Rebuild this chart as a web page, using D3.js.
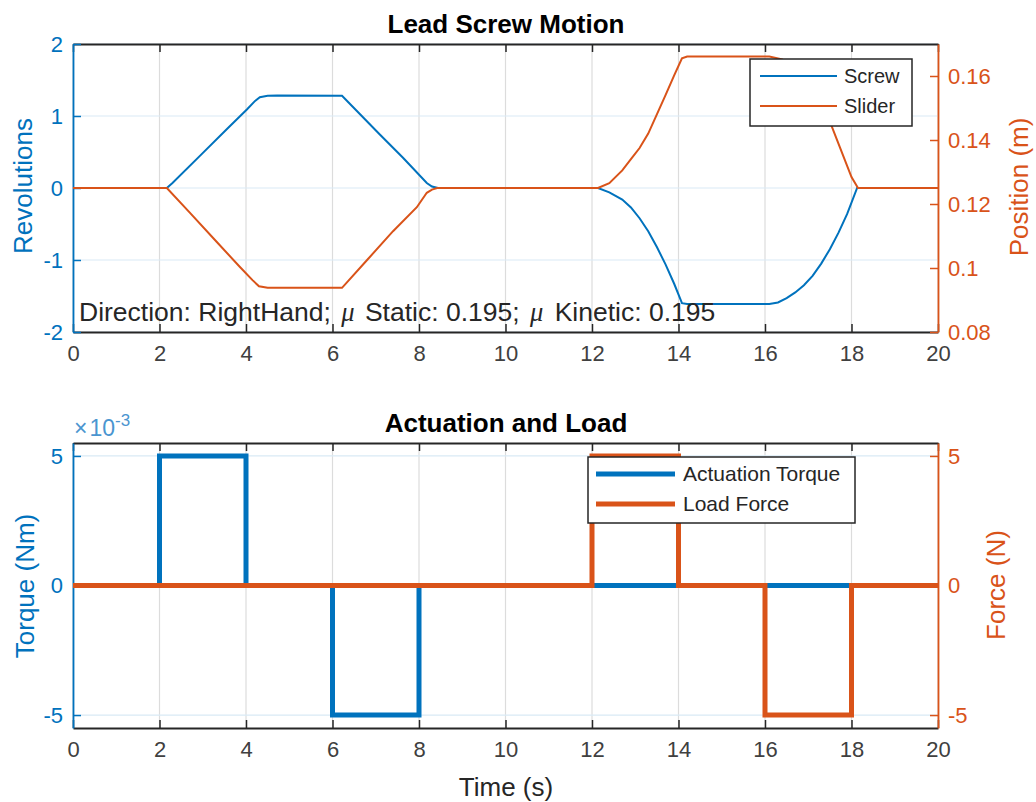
<!DOCTYPE html>
<html>
<head>
<meta charset="utf-8">
<script src="https://cdn.jsdelivr.net/npm/d3@7"></script>
<style>
  body { margin: 0; background: #fff; }
  svg { font-family: "Liberation Sans", Arial, Helvetica, sans-serif; }
</style>
</head>
<body>
<div id="chart"></div>
<script>
/* CONSTANTS AND GLOBALS */
const width = 1036;
const height = 802;
const blue = "#0072BD";
const orange = "#D95319";
const ink = "#262626";
const gridGray = "#dcdcdc";
const gridBlue = "#d9eaf5";

/* DATA */
// top panel: lead screw rotation (rev) and slider position (m) over time (s)
const screwTime = [0, 2.17, 2.3, 2.94, 3.56, 4.02, 4.21, 4.32, 4.5, 4.72, 6.22, 6.4, 7.1, 7.63, 8.18, 8.3, 8.44,
  12.14, 12.4, 12.7, 12.9, 13.1, 13.3, 13.5, 13.7, 13.9, 14.08, 14.2, 16.1, 16.3, 16.5, 16.7, 16.9, 17.1, 17.3, 17.5, 17.7, 17.9, 18.13, 20];
const screwRev = [0, 0, 0.07, 0.45, 0.82, 1.09, 1.21, 1.26, 1.28, 1.285, 1.28, 1.17, 0.74, 0.42, 0.07, 0.02, 0,
  0, -0.06, -0.16, -0.27, -0.42, -0.6, -0.82, -1.06, -1.33, -1.6, -1.61, -1.61, -1.59, -1.53, -1.45, -1.35, -1.22, -1.05, -0.85, -0.62, -0.36, 0, 0];

const sliderTime = [0, 2.17, 2.7, 3.32, 3.86, 4.15, 4.3, 4.5, 6.22, 6.8, 7.4, 7.95, 8.18, 8.3, 8.42,
  12.14, 12.4, 12.7, 12.9, 13.1, 13.3, 13.5, 13.7, 13.9, 14.08, 14.2, 16.1, 16.4, 16.7, 17.0, 17.3, 17.55, 17.73, 18.0, 18.15, 20];
const sliderPos = [0.125, 0.125, 0.1173, 0.1082, 0.1003, 0.0962, 0.0943, 0.0938, 0.0938, 0.1025, 0.1115, 0.119, 0.1235, 0.1245, 0.125,
  0.125, 0.1265, 0.1305, 0.134, 0.1375, 0.142, 0.148, 0.154, 0.1602, 0.1655, 0.1661, 0.1661, 0.1652, 0.1625, 0.158, 0.1515, 0.144, 0.1378, 0.1284, 0.125, 0.125];

// bottom panel: piecewise constant actuation torque (Nm) and load force (N)
const stepTime = [0, 2, 2, 4, 4, 6, 6, 8, 8, 12, 12, 14, 14, 16, 16, 18, 18, 20];
const torque = [0, 0, 0.005, 0.005, 0, 0, -0.005, -0.005, 0, 0, 0, 0, 0, 0, 0, 0, 0, 0];
const force = [0, 0, 0, 0, 0, 0, 0, 0, 0, 0, 5, 5, 0, 0, -5, -5, 0, 0];

// ticks and labels
const timeTicks = [0, 2, 4, 6, 8, 10, 12, 14, 16, 18, 20];
const revTicks = [-2, -1, 0, 1, 2];
const revTickLabels = ["-2", "-1", "0", "1", "2"];
const posTicks = [0.08, 0.1, 0.12, 0.14, 0.16];
const posTickLabels = ["0.08", "0.1", "0.12", "0.14", "0.16"];
const torqueTicks = [-0.005, 0, 0.005];
const torqueTickLabels = ["-5", "0", "5"];
const forceTicks = [-5, 0, 5];
const forceTickLabels = ["-5", "0", "5"];

/* LAYOUT */
const left = 73, right = 938;
const top1 = 44, bottom1 = 332;
const top2 = 443, bottom2 = 728;

/* SCALES */
const xScale = d3.scaleLinear().domain([0, 20]).range([left, right]);
const revScale = d3.scaleLinear().domain([-2, 2]).range([bottom1, top1]);
const posScale = d3.scaleLinear().domain([0.08, 0.17]).range([bottom1, top1]);
const torqueScale = d3.scaleLinear().domain([-0.0055, 0.0055]).range([bottom2, top2]);
const forceScale = d3.scaleLinear().domain([-5.5, 5.5]).range([bottom2, top2]);

/* HTML ELEMENTS */
const svg = d3.select("#chart")
  .append("svg")
  .attr("width", width)
  .attr("height", height)
  .style("background-color", "white");

function panel(yL, yR, ticksL, labelsL, ticksR, labelsR, y0, y1) {
  const g = svg.append("g");

  // grid
  g.selectAll(".vgrid").data(timeTicks).join("line")
    .attr("x1", d => xScale(d)).attr("x2", d => xScale(d))
    .attr("y1", y0).attr("y2", y1)
    .attr("stroke", gridGray).attr("stroke-width", 1.2);
  g.selectAll(".hgrid").data(ticksL).join("line")
    .attr("x1", left).attr("x2", right)
    .attr("y1", d => yL(d)).attr("y2", d => yL(d))
    .attr("stroke", gridBlue).attr("stroke-width", 1.2);

  // x axes (bottom with labels, top ticks only)
  const xb = g.append("g").attr("transform", `translate(0,${y1})`)
    .call(d3.axisBottom(xScale).tickValues(timeTicks).tickSize(-8).tickSizeOuter(0).tickPadding(13).tickFormat(d => d));
  const xt = g.append("g").attr("transform", `translate(0,${y0})`)
    .call(d3.axisTop(xScale).tickValues(timeTicks).tickSize(-8).tickSizeOuter(0).tickFormat(""));
  [xb, xt].forEach(a => {
    a.selectAll("path,line").attr("stroke", ink).attr("stroke-width", 1.5);
    a.selectAll("text").attr("fill", "#404040").style("font-size", "22px");
  });

  // y axes
  const yl = g.append("g").attr("transform", `translate(${left},0)`)
    .call(d3.axisLeft(yL).tickValues(ticksL).tickSize(-8).tickSizeOuter(0).tickPadding(10).tickFormat((d, i) => labelsL[i]));
  yl.selectAll("path,line").attr("stroke", blue).attr("stroke-width", 1.5);
  yl.selectAll("text").attr("fill", blue).style("font-size", "22px");

  const yr = g.append("g").attr("transform", `translate(${right},0)`)
    .call(d3.axisRight(yR).tickValues(ticksR).tickSize(-8).tickSizeOuter(0).tickPadding(10).tickFormat((d, i) => labelsR[i]));
  yr.selectAll("path,line").attr("stroke", orange).attr("stroke-width", 1.5);
  yr.selectAll("text").attr("fill", orange).style("font-size", "22px");
  g.selectAll(".domain").attr("stroke-width", 1.8);
  return g;
}

/* TOP PANEL */
panel(revScale, posScale, revTicks, revTickLabels, posTicks, posTickLabels, top1, bottom1);

const screwData = screwTime.map((t, i) => [t, screwRev[i]]);
const sliderData = sliderTime.map((t, i) => [t, sliderPos[i]]);

svg.append("path").datum(screwData)
  .attr("d", d3.line().x(d => xScale(d[0])).y(d => revScale(d[1])))
  .attr("fill", "none").attr("stroke", blue).attr("stroke-width", 2);
svg.append("path").datum(sliderData)
  .attr("d", d3.line().x(d => xScale(d[0])).y(d => posScale(d[1])))
  .attr("fill", "none").attr("stroke", orange).attr("stroke-width", 2);

// annotation
const note = svg.append("text").attr("x", 79).attr("y", 321)
  .attr("fill", ink).style("font-size", "26.5px");
note.append("tspan").text("Direction: RightHand; ");
note.append("tspan").attr("dx", 3).text("\u03BC").style("font-family", "'Liberation Serif', serif").style("font-style", "italic");
note.append("tspan").attr("dx", 3).text(" Static: 0.195; ");
note.append("tspan").attr("dx", 3).text("\u03BC").style("font-family", "'Liberation Serif', serif").style("font-style", "italic");
note.append("tspan").attr("dx", 4).text(" Kinetic: 0.195");

// titles and labels
svg.append("text").attr("x", 506).attr("y", 33).attr("text-anchor", "middle")
  .style("font-size", "26px").style("font-weight", "bold").attr("fill", "#000").text("Lead Screw Motion");
svg.append("text").attr("transform", "translate(32,186) rotate(-90)").attr("text-anchor", "middle")
  .style("font-size", "26px").attr("fill", blue).text("Revolutions");
svg.append("text").attr("transform", "translate(1028,187) rotate(-90)").attr("text-anchor", "middle")
  .style("font-size", "26px").attr("fill", orange).text("Position (m)");

// legend
function legend(x, y, w, h, items, lw, fs, lineX0, lineX1, textX, rowY) {
  const lg = svg.append("g");
  lg.append("rect").attr("x", x).attr("y", y).attr("width", w).attr("height", h)
    .attr("fill", "white").attr("stroke", ink).attr("stroke-width", 1.5);
  items.forEach((it, i) => {
    lg.append("line").attr("x1", lineX0).attr("x2", lineX1).attr("y1", rowY[i]).attr("y2", rowY[i])
      .attr("stroke", it.color).attr("stroke-width", lw);
    lg.append("text").attr("x", textX).attr("y", rowY[i]).attr("dy", "0.35em")
      .style("font-size", fs).attr("fill", ink).text(it.name);
  });
}
legend(750, 59, 162, 67, [{ name: "Screw", color: blue }, { name: "Slider", color: orange }],
  2, "20px", 760, 837, 844, [76, 106]);

/* BOTTOM PANEL */
panel(torqueScale, forceScale, torqueTicks, torqueTickLabels, forceTicks, forceTickLabels, top2, bottom2);

const torqueData = stepTime.map((t, i) => [t, torque[i]]);
const forceData = stepTime.map((t, i) => [t, force[i]]);

svg.append("path").datum(torqueData)
  .attr("d", d3.line().x(d => xScale(d[0])).y(d => torqueScale(d[1])))
  .attr("fill", "none").attr("stroke", blue).attr("stroke-width", 5);
svg.append("path").datum(forceData)
  .attr("d", d3.line().x(d => xScale(d[0])).y(d => forceScale(d[1])))
  .attr("fill", "none").attr("stroke", orange).attr("stroke-width", 5);

svg.append("text").attr("x", 506).attr("y", 432).attr("text-anchor", "middle")
  .style("font-size", "26px").style("font-weight", "bold").attr("fill", "#000").text("Actuation and Load");
svg.append("text").attr("transform", "translate(34,586) rotate(-90)").attr("text-anchor", "middle")
  .style("font-size", "26px").attr("fill", blue).text("Torque (Nm)");
svg.append("text").attr("transform", "translate(1005,585) rotate(-90)").attr("text-anchor", "middle")
  .style("font-size", "26px").attr("fill", orange).text("Force (N)");
svg.append("text").attr("x", 506).attr("y", 796).attr("text-anchor", "middle")
  .style("font-size", "26px").attr("fill", ink).text("Time (s)");

// exponent
const expo = svg.append("text").attr("x", 74).attr("y", 436).attr("fill", "#4a95d0").style("font-size", "23px");
expo.append("tspan").text("\u00D7").attr("dx", 0);
expo.append("tspan").attr("dx", 2).text("10");
expo.append("tspan").attr("dy", -10).style("font-size", "17px").text("-3");

legend(588, 457, 267, 66, [{ name: "Actuation Torque", color: blue }, { name: "Load Force", color: orange }],
  5, "21px", 596, 675, 683, [474, 504]);
</script>
</body>
</html>
